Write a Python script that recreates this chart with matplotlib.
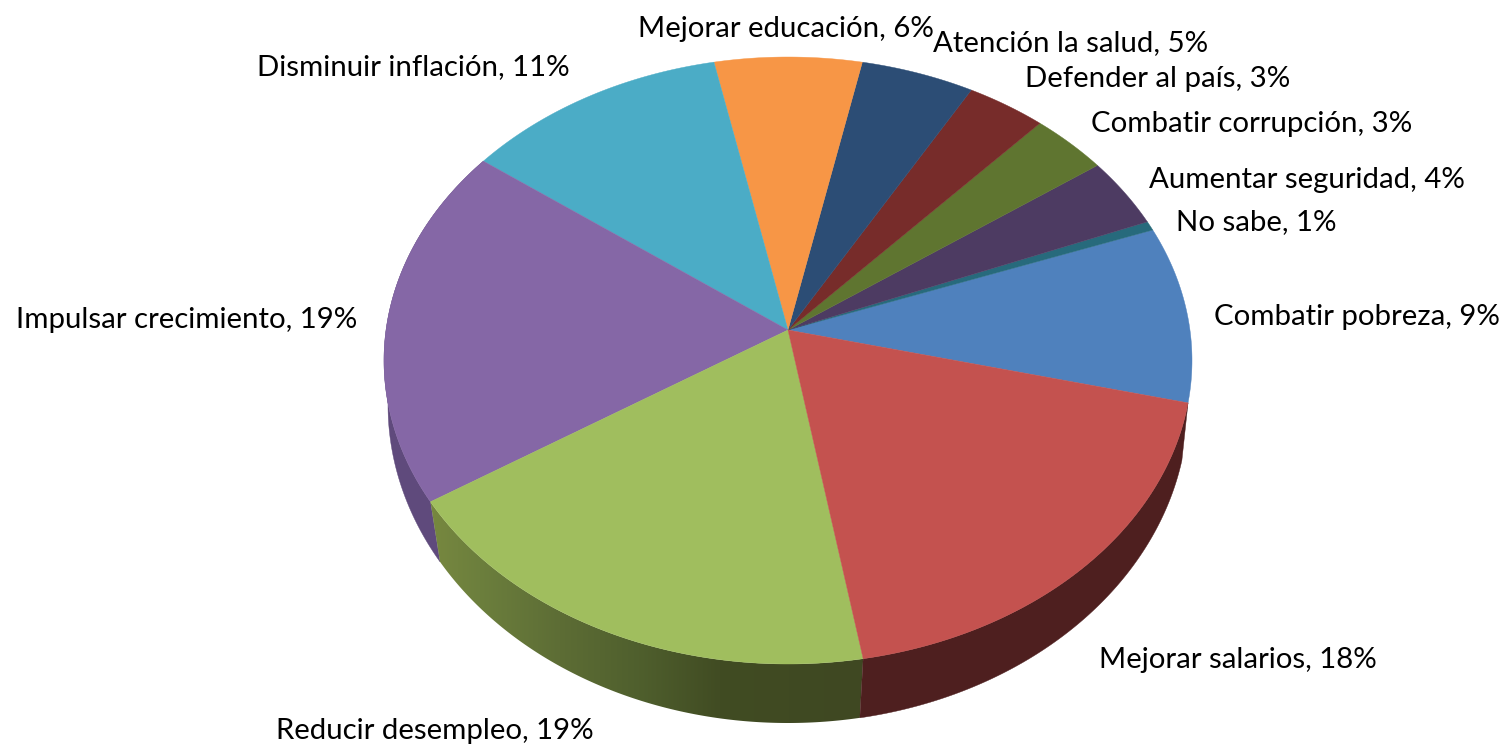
import numpy as np
import matplotlib
matplotlib.use("Agg")
import matplotlib.pyplot as plt
from matplotlib.patches import Polygon
from matplotlib.colors import to_rgb

# ---- data (counter-clockwise from the first slice) ----
categories = ["Combatir pobreza", "No sabe", "Aumentar seguridad", "Combatir corrupción",
              "Defender al país", "Atención la salud", "Mejorar educación",
              "Disminuir inflación", "Impulsar crecimiento", "Reducir desempleo",
              "Mejorar salarios"]
shares = [9.4, 0.5, 3.75, 3.4, 3.5, 5.0, 6.5, 11.6, 19.25, 18.6, 18.5]
labels_pct = [9, 1, 4, 3, 3, 5, 6, 11, 19, 19, 18]
colors = ["#4F81BD", "#276A7C", "#4D3B62", "#5F7530", "#772C2A", "#2C4D75",
          "#F79646", "#4BACC6", "#8567A6", "#A0BE5E", "#C4524F"]

# ---- layout (pixels) ----
label_xy = [(1214, 317), (1176, 222), (1149, 180), (1091, 124), (1025, 79), (933, 43),
            (638, 29), (257, 67), (16, 320), (276, 731), (1099, 660)]
START = -13.7
FONT = 21.2
side_flat = {"Impulsar crecimiento": "#5F4A7C", "Mejorar salarios": "#4E1F1F"}
grad_x = [436, 480, 560, 640, 720, 860]
grad_c = ["#76873F", "#6C7F3D", "#5D6D35", "#4F5F2D", "#414C23", "#3F4822"]


def projector(cx, top, bottom, semi_x, k):
    # circle -> ellipse with perspective k
    b = (bottom - top) / (1 / (1 - k) + 1 / (1 + k))
    yc = bottom - b / (1 - k)
    a = semi_x * np.sqrt(1 - k * k)

    def f(t):
        x, y = np.cos(t), np.sin(t)
        d = 1 + k * y
        return cx + a * x / d, yc - b * y / d
    return f, yc


top_rim, apex_y = projector(788, 57, 664, 404, 0.1005)
low_rim, _ = projector(788, 87, 723, 400, 0.065)

fig = plt.figure(figsize=(15.05, 7.44), dpi=100)
ax = fig.add_axes([0, 0, 1, 1])
ax.axis("off")

s = np.array(shares, dtype=float)
edges = np.radians(START + 360 * np.concatenate([[0], np.cumsum(s)]) / s.sum())

# side walls of the slices facing the viewer
for name, a0, a1 in zip(categories, edges[:-1], edges[1:]):
    if name not in side_flat and name != "Reducir desempleo":
        continue
    ts = np.linspace(a0, a1, 200)
    x0, y0 = top_rim(ts)
    x1, y1 = low_rim(ts)
    px, py = np.r_[x0, x1[::-1]], np.r_[y0, y1[::-1]]
    if name in side_flat:
        ax.fill(px, py, facecolor=side_flat[name], edgecolor=side_flat[name], linewidth=0.3, zorder=1)
    else:
        xs = np.arange(px.min() - 1, px.max() + 2)
        rgb = np.array([to_rgb(c) for c in grad_c])
        img = np.stack([np.interp(xs, grad_x, rgb[:, i]) for i in range(3)], axis=-1)[None, :, :]
        im = ax.imshow(img, extent=(xs[0], xs[-1], py.max() + 1, py.min() - 1),
                       aspect="auto", interpolation="bilinear", zorder=1)
        clip = Polygon(np.column_stack([px, py]), closed=True, transform=ax.transData,
                       facecolor="none", edgecolor="none")
        ax.add_patch(clip)
        im.set_clip_path(clip)

# top faces
for name, col, a0, a1 in zip(categories, colors, edges[:-1], edges[1:]):
    ts = np.linspace(a0, a1, 120)
    x, y = top_rim(ts)
    ax.fill(np.r_[788, x], np.r_[apex_y, y], facecolor=col, edgecolor=col, linewidth=0.3, zorder=2)

for name, pct, (lx, ly) in zip(categories, labels_pct, label_xy):
    ax.text(lx, ly, f"{name}, {pct}%", family="Lato", fontsize=FONT, color="black",
            ha="left", va="center", zorder=3)

ax.set_xlim(0, 1505)
ax.set_ylim(744, 0)
fig.savefig("out.png", dpi=100)
